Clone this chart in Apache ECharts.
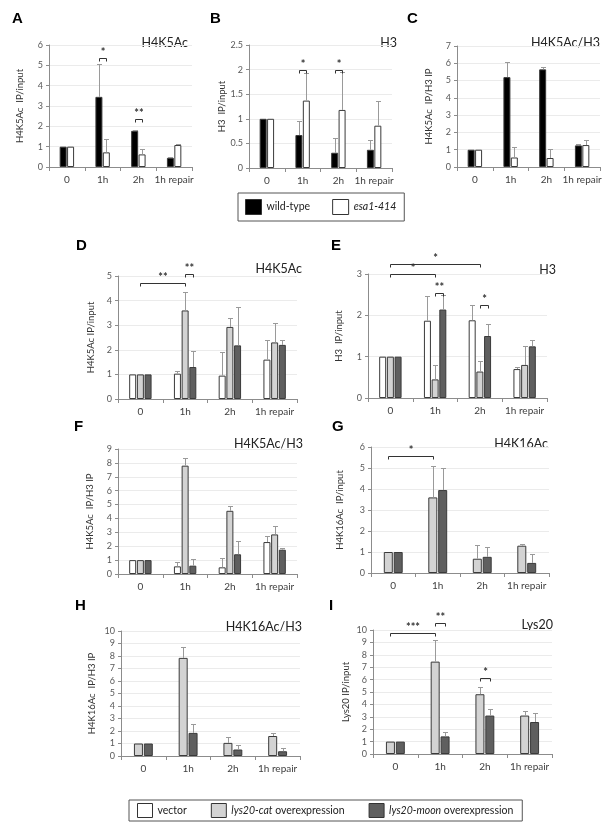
<!DOCTYPE html>
<html><head><meta charset="utf-8">
<script src="https://cdn.jsdelivr.net/npm/echarts@6/dist/echarts.min.js"></script>
<style>html,body{margin:0;padding:0;background:#fff}#c{width:615px;height:826px}</style>
</head><body><div id="c"></div><script>
const categories = ['0', '1h', '2h', '1h repair'];

// Panel A  H4K5Ac IP/input
const aWildType = [1.0, 3.45, 1.78, 0.45];
const aWildTypeSd = [0, 1.6, 0.02, 0.02];
const aEsa = [1.0, 0.72, 0.62, 1.08];
const aEsaSd = [0, 0.68, 0.26, 0.04];
// Panel B  H3 IP/input
const bWildType = [1.0, 0.67, 0.31, 0.37];
const bWildTypeSd = [0, 0.28, 0.30, 0.20];
const bEsa = [1.0, 1.37, 1.18, 0.86];
const bEsaSd = [0, 0.56, 0.77, 0.51];
// Panel C  H4K5Ac/H3
const cWildType = [1.0, 5.2, 5.65, 1.25];
const cWildTypeSd = [0, 0.9, 0.15, 0.1];
const cEsa = [1.0, 0.55, 0.52, 1.27];
const cEsaSd = [0, 0.6, 0.53, 0.28];
// Panel D  H4K5Ac IP/input
const dVector = [1.0, 1.03, 0.95, 1.6];
const dVectorSd = [0, 0.1, 0.97, 0.8];
const dCat = [1.0, 3.6, 2.93, 2.3];
const dCatSd = [0, 0.73, 0.37, 0.78];
const dMoon = [1.0, 1.3, 2.18, 2.2];
const dMoonSd = [0, 0.66, 1.57, 0.18];
// Panel E  H3 IP/input
const eVector = [1.0, 1.87, 1.88, 0.7];
const eVectorSd = [0, 0.6, 0.37, 0.06];
const eCat = [1.0, 0.45, 0.64, 0.8];
const eCatSd = [0, 0.34, 0.26, 0.45];
const eMoon = [1.0, 2.14, 1.5, 1.25];
const eMoonSd = [0, 0.36, 0.3, 0.15];
// Panel F  H4K5Ac/H3
const fVector = [1.0, 0.55, 0.48, 2.3];
const fVectorSd = [0, 0.35, 0.67, 0.45];
const fCat = [1.0, 7.8, 4.55, 2.85];
const fCatSd = [0, 0.55, 0.35, 0.6];
const fMoon = [1.0, 0.6, 1.42, 1.75];
const fMoonSd = [0, 0.5, 0.98, 0.15];
// Panel G  H4K16Ac IP/input
const gCat = [1.0, 3.6, 0.68, 1.3];
const gCatSd = [0, 1.5, 0.65, 0.1];
const gMoon = [1.0, 3.95, 0.77, 0.48];
const gMoonSd = [0, 1.05, 0.48, 0.44];
// Panel H  H4K16Ac/H3
const hCat = [1.0, 7.85, 1.05, 1.6];
const hCatSd = [0, 0.9, 0.45, 0.25];
const hMoon = [1.0, 1.85, 0.52, 0.38];
const hMoonSd = [0, 0.7, 0.4, 0.3];
// Panel I  Lys20 IP/input
const iCat = [1.0, 7.45, 4.82, 3.1];
const iCatSd = [0, 1.75, 0.61, 0.4];
const iMoon = [1.0, 1.42, 3.1, 2.58];
const iMoonSd = [0, 0.36, 0.55, 0.74];

// significance brackets: [catFrom, barFrom, catTo, barTo, yValue, label]
const aBrackets = [[1, 0, 1, 1, 5.36, '*'], [2, 0, 2, 1, 2.36, '**']];
const bBrackets = [[1, 0, 1, 1, 2.0, '*'], [2, 0, 2, 1, 2.0, '*']];
const dBrackets = [[0, 1, 1, 1, 4.73, '**'], [1, 1, 1, 2, 5.1, '**']];
const eBrackets = [[0, 1, 2, 1, 3.25, '*'], [0, 1, 1, 1, 2.99, '*'], [1, 1, 1, 2, 2.55, '**'], [2, 1, 2, 2, 2.24, '*']];
const gBrackets = [[0, 0, 1, 0, 5.57, '*']];
const iBrackets = [[0, 0, 1, 0, 9.76, '***'], [1, 0, 1, 1, 10.6, '**'], [2, 0, 2, 1, 6.1, '*']];

const COL = { wt: '#000000', esa: '#ffffff', vector: '#ffffff', cat: '#d3d3d3', moon: '#5f5f5f' };
const FONT = 'Lato, "Open Sans", sans-serif';

const panels = [
  { letter: 'A', title: 'H4K5Ac', yName: 'H4K5Ac  IP/input', grid: [49, 45, 143, 122], max: 6, interval: 1, nameGap: 24, bw: 7, gap: 0.06,
    series: [['wild-type', COL.wt, aWildType, aWildTypeSd], ['esa1-414', COL.esa, aEsa, aEsaSd]], brackets: aBrackets,
    letterPos: [18, 20], titlePos: [188, 43] },
  { letter: 'B', title: 'H3', yName: 'H3  IP/input', grid: [249, 45, 143, 123], max: 2.5, interval: 0.5, nameGap: 20, bw: 7, gap: 0.06,
    series: [['wild-type', COL.wt, bWildType, bWildTypeSd], ['esa1-414', COL.esa, bEsa, bEsaSd]], brackets: bBrackets,
    letterPos: [216, 20], titlePos: [397, 43] },
  { letter: 'C', title: 'H4K5Ac/H3', yName: 'H4K5Ac  IP/H3 IP', grid: [457, 46, 143, 121], max: 7, interval: 1, nameGap: 23, bw: 7, gap: 0.06,
    series: [['wild-type', COL.wt, cWildType, cWildTypeSd], ['esa1-414', COL.esa, cEsa, cEsaSd]], brackets: [],
    letterPos: [413, 20], titlePos: [600, 43] },
  { letter: 'D', title: 'H4K5Ac', yName: 'H4K5Ac IP/input', grid: [118, 276, 179, 123], max: 5, interval: 1, nameGap: 22, bw: 7, gap: 0.1,
    series: [['vector', COL.vector, dVector, dVectorSd], ['lys20-cat overexpression', COL.cat, dCat, dCatSd], ['lys20-moon overexpression', COL.moon, dMoon, dMoonSd]], brackets: dBrackets,
    letterPos: [82, 247], titlePos: [302, 269] },
  { letter: 'E', title: 'H3', yName: 'H3  IP/input', grid: [368, 274, 179, 124], max: 3, interval: 1, nameGap: 24, bw: 7, gap: 0.1,
    series: [['vector', COL.vector, eVector, eVectorSd], ['lys20-cat overexpression', COL.cat, eCat, eCatSd], ['lys20-moon overexpression', COL.moon, eMoon, eMoonSd]], brackets: eBrackets,
    letterPos: [337, 247], titlePos: [556, 270] },
  { letter: 'F', title: 'H4K5Ac/H3', yName: 'H4K5Ac  IP/H3 IP', grid: [118, 449, 179, 125], max: 9, interval: 1, nameGap: 23, bw: 7, gap: 0.1,
    series: [['vector', COL.vector, fVector, fVectorSd], ['lys20-cat overexpression', COL.cat, fCat, fCatSd], ['lys20-moon overexpression', COL.moon, fMoon, fMoonSd]], brackets: [],
    letterPos: [80, 428], titlePos: [303, 444] },
  { letter: 'G', title: 'H4K16Ac', yName: 'H4K16Ac  IP/input', grid: [371, 447, 178, 126], max: 6, interval: 1, nameGap: 26, bw: 9, gap: 0.1,
    series: [['lys20-cat overexpression', COL.cat, gCat, gCatSd], ['lys20-moon overexpression', COL.moon, gMoon, gMoonSd]], brackets: gBrackets,
    letterPos: [338, 428], titlePos: [548, 444] },
  { letter: 'H', title: 'H4K16Ac/H3', yName: 'H4K16Ac  IP/H3 IP', grid: [121, 631, 179, 125], max: 10, interval: 1, nameGap: 24, bw: 9, gap: 0.1,
    series: [['lys20-cat overexpression', COL.cat, hCat, hCatSd], ['lys20-moon overexpression', COL.moon, hMoon, hMoonSd]], brackets: [],
    letterPos: [81, 607], titlePos: [302, 627] },
  { letter: 'I', title: 'Lys20', yName: 'Lys20 IP/input', grid: [373, 630, 179, 124], max: 10, interval: 1, nameGap: 22, bw: 9, gap: 0.1,
    series: [['lys20-cat overexpression', COL.cat, iCat, iCatSd], ['lys20-moon overexpression', COL.moon, iMoon, iMoonSd]], brackets: iBrackets,
    letterPos: [335, 607], titlePos: [553, 625] }
];

function barOffset(p, i) {
  const n = p.series.length, w = p.bw, g = p.bw * p.gap;
  const total = n * w + (n - 1) * g;
  return -total / 2 + i * (w + g) + w / 2;
}

const grids = [], xAxes = [], yAxes = [], series = [], graphics = [];
panels.forEach((p, k) => {
  grids.push({ left: p.grid[0], top: p.grid[1], width: p.grid[2], height: p.grid[3] });
  xAxes.push({
    type: 'category', gridIndex: k, data: categories, boundaryGap: true,
    axisLine: { lineStyle: { color: '#8c8c8c', width: 1 } },
    axisTick: { show: true, length: 4, interval: 0, lineStyle: { color: '#8c8c8c' } },
    axisLabel: { color: '#404040', fontSize: 10, fontFamily: FONT, margin: 8, interval: 0, hideOverlap: false }
  });
  yAxes.push({
    type: 'value', gridIndex: k, min: 0, max: p.max, interval: p.interval,
    name: p.yName, nameLocation: 'middle', nameGap: p.nameGap,
    nameTextStyle: { color: '#333', fontSize: 9.5, fontFamily: FONT },
    axisLine: { show: true, lineStyle: { color: '#8c8c8c' } },
    axisTick: { show: true, length: 3, lineStyle: { color: '#8c8c8c' } },
    axisLabel: { color: '#595959', fontSize: 9, fontFamily: FONT, margin: 6 },
    splitLine: { lineStyle: { color: '#ebebeb', width: 1 } }
  });
  p.series.forEach((s) => {
    series.push({
      type: 'bar', name: s[0], xAxisIndex: k, yAxisIndex: k, data: s[2],
      barWidth: p.bw, barGap: (p.gap * 100) + '%',
      itemStyle: { color: s[1], borderColor: '#3a3a3a', borderWidth: 1 },
      emphasis: { disabled: true }, silent: true, animation: false
    });
  });
  const errData = [];
  p.series.forEach((s, i) => {
    s[2].forEach((v, c) => { if (s[3][c] > 0) errData.push([c, v, v + s[3][c], i]); });
  });
  series.push({
    type: 'custom', xAxisIndex: k, yAxisIndex: k, data: errData, silent: true, animation: false, clip: false, z: 5,
    renderItem: function (params, api) {
      const c = api.value(0), v = api.value(1), t = api.value(2), i = api.value(3);
      const p0 = api.coord([c, v]), p1 = api.coord([c, t]);
      const x = Math.round(p0[0] + barOffset(p, i)) + 0.5;
      const y1 = Math.round(p1[1]) + 0.5;
      return { type: 'group', children: [
        { type: 'line', shape: { x1: x, y1: p0[1], x2: x, y2: y1 }, style: { stroke: '#9a9a9a', lineWidth: 1 } },
        { type: 'line', shape: { x1: x - 2.5, y1: y1, x2: x + 2.5, y2: y1 }, style: { stroke: '#9a9a9a', lineWidth: 1 } }
      ] };
    }
  });
  if (p.brackets.length) {
    series.push({
      type: 'custom', xAxisIndex: k, yAxisIndex: k, data: p.brackets.map(b => [b[0], b[4]]), silent: true, animation: false, clip: false, z: 6,
      renderItem: function (params, api) {
        const b = p.brackets[params.dataIndex];
        const a = api.coord([b[0], b[4]]), e = api.coord([b[2], b[4]]);
        const x1 = Math.round(a[0] + barOffset(p, b[1])) + 0.5;
        const x2 = Math.round(e[0] + barOffset(p, b[3])) + 0.5;
        const y = Math.round(a[1]) + 0.5;
        return { type: 'group', children: [
          { type: 'polyline', shape: { points: [[x1, y + 3], [x1, y], [x2, y], [x2, y + 3]] }, style: { stroke: '#333', lineWidth: 1, fill: null } },
          { type: 'text', style: { text: b[5], x: (x1 + x2) / 2, y: y - 1, align: 'center', verticalAlign: 'bottom', fill: '#333', fontSize: 11, fontWeight: 'bold', fontFamily: FONT } }
        ] };
      }
    });
  }
  graphics.push({ type: 'text', left: p.letterPos[0] - 6, top: p.letterPos[1] - 9, style: { text: p.letter, fill: '#000', fontSize: 15, fontWeight: 'bold', fontFamily: 'Liberation Sans, Arial, sans-serif' } });
  graphics.push({ type: 'text', x: p.titlePos[0], y: p.titlePos[1], style: { text: p.title, fill: '#222', fontSize: 12.5, fontFamily: FONT, align: 'right', verticalAlign: 'middle' } });
});

const chart = echarts.init(document.getElementById('c'), null, { renderer: 'canvas' });
chart.setOption({
  animation: false,
  backgroundColor: '#fff',
  grid: grids, xAxis: xAxes, yAxis: yAxes, series: series,
  legend: [
    { data: ['wild-type', 'esa1-414'], left: 238, top: 193, orient: 'horizontal', selectedMode: false,
      itemWidth: 16, itemHeight: 15, itemGap: 22, padding: [6, 8, 6, 7], borderColor: '#555', borderWidth: 1,
      icon: 'rect', itemStyle: { borderColor: '#333', borderWidth: 1 },
      textStyle: { fontSize: 10.5, color: '#222', fontFamily: FONT, rich: { it: { fontStyle: 'italic', fontSize: 10.5, fontFamily: FONT, color: '#222' } } },
      formatter: n => n === 'esa1-414' ? '{it|' + n + '}' : n },
    { data: ['vector', 'lys20-cat overexpression', 'lys20-moon overexpression'], left: 129, top: 800, orient: 'horizontal', selectedMode: false,
      itemWidth: 15, itemHeight: 14, itemGap: 24, padding: [3, 9, 3, 8], borderColor: '#555', borderWidth: 1,
      icon: 'rect', itemStyle: { borderColor: '#333', borderWidth: 1 },
      textStyle: { fontSize: 10.5, color: '#222', fontFamily: FONT, rich: { it: { fontStyle: 'italic', fontSize: 10.5, fontFamily: FONT, color: '#222' }, w: { width: 44, fontSize: 10.5, fontFamily: FONT, color: '#222' } } },
      formatter: n => n === 'vector' ? '{w|vector}' : '{it|' + n.split(' ')[0] + '} overexpression' }
  ],
  graphic: graphics
});
</script></body></html>
